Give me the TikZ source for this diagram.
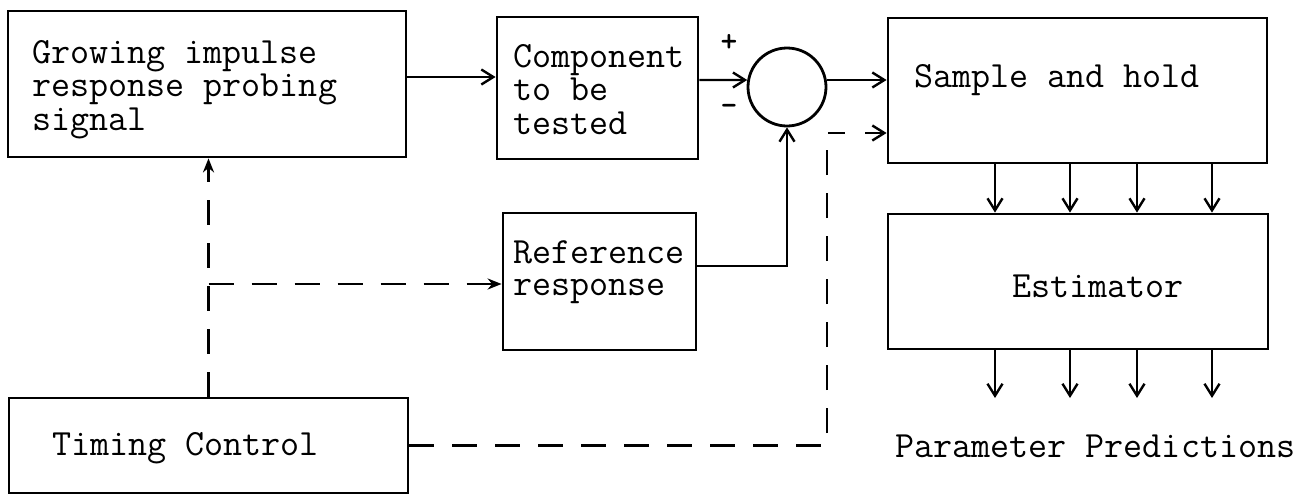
\documentclass[tikz,border=0pt]{standalone}
\usepackage{fontspec}
\usetikzlibrary{arrows.meta}
\begin{document}
\begin{tikzpicture}[x=1pt,y=-1pt,
  box/.style={draw,line width=2.8pt,inner sep=0pt,rectangle},
  txt/.style={anchor=base west,align=left,inner sep=0pt,font=\ttfamily\fontsize{37}{33.5}\selectfont},
  sign/.style={inner sep=0pt,font=\ttfamily\bfseries\fontsize{32}{32}\selectfont},
  arr/.style={line width=2.4pt,-{Straight Barb[length=12pt,width=15pt,line width=2.4pt]}},
  dline/.style={line width=2.4pt,dash pattern=on 25pt off 18pt},
  darr/.style={dline,-{Stealth[length=14pt,width=11pt]}},
]
\useasboundingbox (0,0) rectangle (1310,496);
% boxes
\node[box,minimum width=398pt,minimum height=146pt] (grow) at (207,84) {};
\node[box,minimum width=201pt,minimum height=142pt] (comp) at (597.5,88) {};
\node[box,minimum width=193pt,minimum height=137pt] (ref) at (599.5,281.5) {};
\node[box,minimum width=399pt,minimum height=95pt] (timing) at (208.5,445.5) {};
\node[box,minimum width=379pt,minimum height=145pt] (sh) at (1077.5,90.5) {};
\node[box,minimum width=380pt,minimum height=135pt] (est) at (1078,281.5) {};
\node[draw,circle,line width=2.8pt,inner sep=0pt,minimum size=78pt] (sum) at (787,87) {};
% texts
\node[txt] (growtxt) at (32,130) {Growing impulse\\response probing\\signal};
\node[txt] (comptxt) at (513,134) {Component\\to be\\tested};
\node[txt,font=\ttfamily\fontsize{37}{32}\selectfont] (reftxt) at (513,295) {Reference\\response};
\node[txt] (shtxt) at (914,87) {Sample and hold};
\node[txt] (esttxt) at (1012,297) {Estimator};
\node[txt] (timtxt) at (52,455) {Timing Control};
\node[txt] (partxt) at (895,457) {Parameter Predictions};
\node[sign] (plus) at (729,43) {+};
\node[sign] (minus) at (729,110) {-};
% solid connectors
\draw[arr] ([yshift=7pt]grow.east) -- ([yshift=7pt]grow.east -| comp.west);
\draw[arr] ([yshift=8pt]comp.east) -- (sum.170);
\draw[arr] (sum.10) -- (sum.10 -| sh.west);
\draw[arr] ([yshift=15.5pt]ref.east) -| (sum.south);
\foreach \x/\n in {995/1,1070/2,1137/3,1212/4}{
  \draw[arr] (sh.south -| \x,0) -- (est.north -| \x,0);
  \coordinate (o\n) at (\x,398);
  \draw[arr] (est.south -| \x,0) -- (o\n);
}
% dashed connectors
\coordinate (br) at (timing.north |- 0,284);
\draw[darr] (timing.north) -- (timing.north |- grow.south);
\draw[darr] (br) -- (br -| ref.west);
\coordinate (c1) at (827,0 |- timing.east);
\coordinate (c2) at (827,133);
\coordinate (c3) at (845,133);
\coordinate (c4) at (865,133);
\draw[dline] (timing.east) -- (c1) -- (c2) -- (c3);
\draw[arr] (c4) -- (c4 -| sh.west);
\end{tikzpicture}
\end{document}
